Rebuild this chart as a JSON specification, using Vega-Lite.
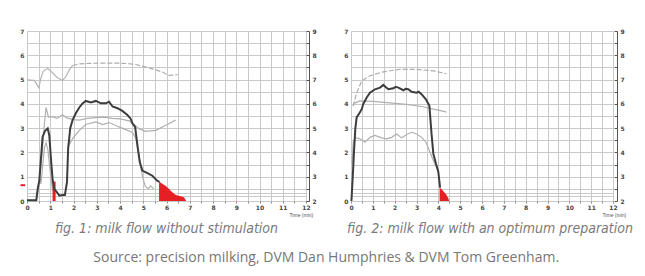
{
  "$schema": "https://vega.github.io/schema/vega-lite/v6.json",
  "background": "white",
  "padding": {"left": 19, "top": 28, "right": 2, "bottom": 2},
  "title": {"text": "Source: precision milking, DVM Dan Humphries & DVM Tom Greenham.", "orient": "bottom", "anchor": "middle", "font": "Open Sans", "fontSize": 14, "fontWeight": "normal", "color": "#777777", "offset": 15},
  "spacing": 26,
  "datasets": {
    "p1": [
      {"s":"dark","t":0,"v":0.03},{"s":"dark","t":0.4,"v":0.03},{"s":"dark","t":0.46,"v":0.5},{"s":"dark","t":0.53,"v":0.85},{"s":"dark","t":0.6,"v":1.74},{"s":"dark","t":0.67,"v":2.64},{"s":"dark","t":0.77,"v":2.88},{"s":"dark","t":0.89,"v":2.99},{"s":"dark","t":0.96,"v":2.7},{"s":"dark","t":1.03,"v":1.74},{"s":"dark","t":1.1,"v":0.91},{"s":"dark","t":1.17,"v":0.5},{"s":"dark","t":1.29,"v":0.36},{"s":"dark","t":1.39,"v":0.22},{"s":"dark","t":1.53,"v":0.25},{"s":"dark","t":1.63,"v":0.25},{"s":"dark","t":1.72,"v":0.78},{"s":"dark","t":1.77,"v":2.16},{"s":"dark","t":1.86,"v":3.0},{"s":"dark","t":1.96,"v":3.33},{"s":"dark","t":2.1,"v":3.61},{"s":"dark","t":2.25,"v":3.85},{"s":"dark","t":2.39,"v":4.02},{"s":"dark","t":2.53,"v":4.12},{"s":"dark","t":2.75,"v":4.06},{"s":"dark","t":2.96,"v":4.12},{"s":"dark","t":3.18,"v":4.02},{"s":"dark","t":3.39,"v":4.02},{"s":"dark","t":3.53,"v":4.09},{"s":"dark","t":3.68,"v":3.89},{"s":"dark","t":3.89,"v":3.82},{"s":"dark","t":4.1,"v":3.71},{"s":"dark","t":4.32,"v":3.54},{"s":"dark","t":4.45,"v":3.4},{"s":"dark","t":4.54,"v":3.19},{"s":"dark","t":4.65,"v":3.05},{"s":"dark","t":4.75,"v":2.29},{"s":"dark","t":4.85,"v":1.6},{"s":"dark","t":4.96,"v":1.25},{"s":"dark","t":5.18,"v":1.15},{"s":"dark","t":5.39,"v":1.04},{"s":"dark","t":5.61,"v":0.83},{"s":"dark","t":5.7,"v":0.79},
      {"s":"g1","t":0.55,"v":1.0},{"s":"g1","t":0.65,"v":2.0},{"s":"g1","t":0.75,"v":3.2},{"s":"g1","t":0.82,"v":3.85},{"s":"g1","t":0.92,"v":3.45},{"s":"g1","t":1.1,"v":3.47},{"s":"g1","t":1.3,"v":3.4},{"s":"g1","t":1.53,"v":3.55},{"s":"g1","t":1.7,"v":3.42},{"s":"g1","t":2.0,"v":3.35},{"s":"g1","t":2.25,"v":3.33},{"s":"g1","t":2.6,"v":3.4},{"s":"g1","t":2.96,"v":3.43},{"s":"g1","t":3.3,"v":3.45},{"s":"g1","t":3.68,"v":3.4},{"s":"g1","t":4.0,"v":3.38},{"s":"g1","t":4.39,"v":3.3},{"s":"g1","t":4.6,"v":3.15},{"s":"g1","t":4.82,"v":2.98},{"s":"g1","t":5.1,"v":2.87},{"s":"g1","t":5.54,"v":2.91},{"s":"g1","t":5.97,"v":3.12},{"s":"g1","t":6.39,"v":3.33},
      {"s":"g2","t":1.75,"v":2.22},{"s":"g2","t":1.96,"v":2.57},{"s":"g2","t":2.25,"v":2.91},{"s":"g2","t":2.53,"v":3.15},{"s":"g2","t":2.96,"v":3.26},{"s":"g2","t":3.25,"v":3.15},{"s":"g2","t":3.53,"v":3.23},{"s":"g2","t":3.96,"v":3.05},{"s":"g2","t":4.32,"v":2.91},{"s":"g2","t":4.54,"v":2.82},{"s":"g2","t":4.68,"v":2.57},{"s":"g2","t":4.82,"v":1.87},{"s":"g2","t":4.96,"v":1.04},{"s":"g2","t":5.08,"v":0.62},{"s":"g2","t":5.22,"v":0.51},{"s":"g2","t":5.32,"v":0.62},{"s":"g2","t":5.46,"v":0.49},
      {"s":"g3","t":0.42,"v":0.1},{"s":"g3","t":0.5,"v":0.6},{"s":"g3","t":0.55,"v":0.95},{"s":"g3","t":0.6,"v":0.7},{"s":"g3","t":0.65,"v":1.2},{"s":"g3","t":0.75,"v":2.2},{"s":"g3","t":0.82,"v":2.4},{"s":"g3","t":0.9,"v":2.1},{"s":"g3","t":1.0,"v":1.2},{"s":"g3","t":1.1,"v":0.4},
      {"s":"dsolid","t":0,"v":4.99},{"s":"dsolid","t":0.3,"v":4.97},{"s":"dsolid","t":0.41,"v":4.82},{"s":"dsolid","t":0.51,"v":4.66},{"s":"dsolid","t":0.6,"v":5.07},{"s":"dsolid","t":0.7,"v":5.35},{"s":"dsolid","t":0.89,"v":5.46},{"s":"dsolid","t":1.1,"v":5.28},{"s":"dsolid","t":1.31,"v":5.07},{"s":"dsolid","t":1.53,"v":4.97},{"s":"dsolid","t":1.67,"v":5.12},{"s":"dsolid","t":1.82,"v":5.4},{"s":"dsolid","t":1.96,"v":5.58},
      {"s":"ddash","t":1.96,"v":5.58},{"s":"ddash","t":2.25,"v":5.65},{"s":"ddash","t":2.8,"v":5.67},{"s":"ddash","t":3.32,"v":5.68},{"s":"ddash","t":3.8,"v":5.68},{"s":"ddash","t":4.32,"v":5.66},{"s":"ddash","t":4.68,"v":5.62},{"s":"ddash","t":5.25,"v":5.48},{"s":"ddash","t":5.82,"v":5.31},{"s":"ddash","t":6.11,"v":5.17},{"s":"ddash","t":6.47,"v":5.2},
      {"s":"ra","t":1.1,"v":0.8},{"s":"ra","t":1.23,"v":0.8},
      {"s":"rb","t":5.68,"v":0.8},{"s":"rb","t":5.8,"v":0.72},{"s":"rb","t":5.97,"v":0.62},{"s":"rb","t":6.1,"v":0.5},{"s":"rb","t":6.18,"v":0.42},{"s":"rb","t":6.3,"v":0.32},{"s":"rb","t":6.4,"v":0.25},{"s":"rb","t":6.6,"v":0.2},{"s":"rb","t":6.75,"v":0.15},{"s":"rb","t":6.85,"v":0},
      {"s":"rm","t":-0.28,"t2":-0.08,"v":0.65}
    ],
    "p2": [
      {"s":"dark","t":0.02,"v":0},{"s":"dark","t":0.08,"v":1.0},{"s":"dark","t":0.14,"v":2.08},{"s":"dark","t":0.2,"v":3.0},{"s":"dark","t":0.26,"v":3.44},{"s":"dark","t":0.41,"v":3.65},{"s":"dark","t":0.5,"v":3.8},{"s":"dark","t":0.56,"v":3.99},{"s":"dark","t":0.72,"v":4.26},{"s":"dark","t":0.87,"v":4.46},{"s":"dark","t":1.1,"v":4.6},{"s":"dark","t":1.33,"v":4.67},{"s":"dark","t":1.48,"v":4.78},{"s":"dark","t":1.6,"v":4.68},{"s":"dark","t":1.71,"v":4.6},{"s":"dark","t":1.94,"v":4.64},{"s":"dark","t":2.05,"v":4.7},{"s":"dark","t":2.17,"v":4.67},{"s":"dark","t":2.4,"v":4.56},{"s":"dark","t":2.5,"v":4.62},{"s":"dark","t":2.62,"v":4.6},{"s":"dark","t":2.78,"v":4.5},{"s":"dark","t":3.0,"v":4.46},{"s":"dark","t":3.1,"v":4.5},{"s":"dark","t":3.24,"v":4.39},{"s":"dark","t":3.43,"v":4.19},{"s":"dark","t":3.59,"v":3.92},{"s":"dark","t":3.69,"v":2.76},{"s":"dark","t":3.77,"v":1.95},{"s":"dark","t":3.89,"v":1.54},{"s":"dark","t":4.0,"v":1.2},{"s":"dark","t":4.08,"v":0.55},
      {"s":"ddash","t":0.1,"v":3.9},{"s":"ddash","t":0.26,"v":4.46},{"s":"ddash","t":0.49,"v":4.94},{"s":"ddash","t":0.87,"v":5.16},{"s":"ddash","t":1.48,"v":5.32},{"s":"ddash","t":2.24,"v":5.42},{"s":"ddash","t":3.0,"v":5.42},{"s":"ddash","t":3.77,"v":5.36},{"s":"ddash","t":4.38,"v":5.24},
      {"s":"g1","t":0.1,"v":4.0},{"s":"g1","t":0.41,"v":4.12},{"s":"g1","t":1.0,"v":4.1},{"s":"g1","t":1.63,"v":4.05},{"s":"g1","t":2.55,"v":3.98},{"s":"g1","t":3.31,"v":3.88},{"s":"g1","t":3.77,"v":3.78},{"s":"g1","t":4.15,"v":3.71},{"s":"g1","t":4.38,"v":3.66},
      {"s":"g2","t":0.05,"v":1.5},{"s":"g2","t":0.1,"v":2.4},{"s":"g2","t":0.18,"v":2.62},{"s":"g2","t":0.41,"v":2.56},{"s":"g2","t":0.64,"v":2.42},{"s":"g2","t":0.87,"v":2.62},{"s":"g2","t":1.1,"v":2.7},{"s":"g2","t":1.4,"v":2.6},{"s":"g2","t":1.63,"v":2.56},{"s":"g2","t":1.86,"v":2.62},{"s":"g2","t":2.09,"v":2.76},{"s":"g2","t":2.32,"v":2.6},{"s":"g2","t":2.55,"v":2.74},{"s":"g2","t":2.78,"v":2.83},{"s":"g2","t":3.0,"v":2.76},{"s":"g2","t":3.24,"v":2.62},{"s":"g2","t":3.43,"v":2.42},{"s":"g2","t":3.59,"v":2.08},{"s":"g2","t":3.74,"v":1.74},{"s":"g2","t":3.86,"v":1.47},{"s":"g2","t":3.97,"v":1.33},
      {"s":"rb","t":4.06,"v":0.55},{"s":"rb","t":4.15,"v":0.48},{"s":"rb","t":4.25,"v":0.38},{"s":"rb","t":4.35,"v":0.28},{"s":"rb","t":4.45,"v":0.12},{"s":"rb","t":4.5,"v":0}
    ]
  },
  "hconcat": [
    {
      "width": 279, "height": 170,
      "title": {"text": "fig. 1: milk flow without stimulation", "orient": "bottom", "anchor": "middle", "font": "Liberation Sans Narrow, DejaVu Sans Condensed, sans-serif", "fontStyle": "italic", "fontWeight": "normal", "fontSize": 14, "color": "#7a7a7a", "offset": 5},
      "data": {"name": "p1"},
      "resolve": {"axis": {"y": "independent"}},
      "layer": [
        {
          "transform": [{"filter": "datum.s === 'dsolid'"}],
          "mark": {"type": "line", "color": "#b5b5b5", "strokeWidth": 1.2},
          "encoding": {
            "x": {"field": "t", "type": "quantitative", "scale": {"domain": [0, 12], "nice": false, "zero": false}, "axis": {"values": [0,0.5,1,1.5,2,2.5,3,3.5,4,4.5,5,5.5,6,6.5,7,7.5,8,8.5,9,9.5,10,10.5,11,11.5,12], "labelExpr": "datum.value % 1 === 0 ? format(datum.value, 'd') : ''", "grid": true, "tickSize": 2, "labelPadding": 1, "labelFlush": false, "labelOverlap": false, "title": "Time (min)", "titleFontSize": 5, "titleFontWeight": "normal", "titleColor": "#555", "titleX": 262, "titleY": 11, "titleAlign": "left", "titleBaseline": "top"}},
            "y": {"field": "v", "type": "quantitative", "scale": {"domain": [0, 7], "nice": false, "zero": false},
              "axis": {"orient": "left", "values": [0,0.2,0.35,0.5,1,1.5,2,2.5,3,3.5,4,4.5,5,5.5,6,6.5,7], "labelExpr": "datum.value % 1 === 0 ? format(datum.value, 'd') : ''", "grid": true, "tickSize": 0, "labelPadding": 3, "labelOverlap": false, "labelFlush": false, "title": null}}
          }
        },
        {
          "transform": [{"filter": "datum.s === 'ddash'"}],
          "mark": {"type": "line", "color": "#adadad", "strokeWidth": 1.2, "strokeDash": [5, 2]},
          "encoding": {
            "x": {"field": "t", "type": "quantitative", "scale": {"domain": [0, 12], "nice": false, "zero": false}, "axis": {"values": [0,0.5,1,1.5,2,2.5,3,3.5,4,4.5,5,5.5,6,6.5,7,7.5,8,8.5,9,9.5,10,10.5,11,11.5,12], "labelExpr": "datum.value % 1 === 0 ? format(datum.value, 'd') : ''", "grid": true, "tickSize": 2, "labelPadding": 1, "labelFlush": false, "labelOverlap": false, "title": "Time (min)", "titleFontSize": 5, "titleFontWeight": "normal", "titleColor": "#555", "titleX": 262, "titleY": 11, "titleAlign": "left", "titleBaseline": "top"}},
            "y": {"field": "v", "type": "quantitative", "scale": {"domain": [0, 7], "nice": false, "zero": false}, "axis": null}
          }
        },
        {
          "transform": [{"filter": "datum.s === 'g1' || datum.s === 'g2' || datum.s === 'g3'"}],
          "mark": {"type": "line", "color": "#b0b0b0", "strokeWidth": 1.2},
          "encoding": {
            "x": {"field": "t", "type": "quantitative", "scale": {"domain": [0, 12], "nice": false, "zero": false}, "axis": {"values": [0,0.5,1,1.5,2,2.5,3,3.5,4,4.5,5,5.5,6,6.5,7,7.5,8,8.5,9,9.5,10,10.5,11,11.5,12], "labelExpr": "datum.value % 1 === 0 ? format(datum.value, 'd') : ''", "grid": true, "tickSize": 2, "labelPadding": 1, "labelFlush": false, "labelOverlap": false, "title": "Time (min)", "titleFontSize": 5, "titleFontWeight": "normal", "titleColor": "#555", "titleX": 262, "titleY": 11, "titleAlign": "left", "titleBaseline": "top"}},
            "y": {"field": "v", "type": "quantitative", "scale": {"domain": [0, 7], "nice": false, "zero": false}, "axis": null},
            "detail": {"field": "s"}
          }
        },
        {
          "transform": [{"filter": "datum.s === 'ra' || datum.s === 'rb'"}],
          "mark": {"type": "area", "color": "#e51f24", "opacity": 1},
          "encoding": {
            "x": {"field": "t", "type": "quantitative", "scale": {"domain": [0, 12], "nice": false, "zero": false}, "axis": {"values": [0,0.5,1,1.5,2,2.5,3,3.5,4,4.5,5,5.5,6,6.5,7,7.5,8,8.5,9,9.5,10,10.5,11,11.5,12], "labelExpr": "datum.value % 1 === 0 ? format(datum.value, 'd') : ''", "grid": true, "tickSize": 2, "labelPadding": 1, "labelFlush": false, "labelOverlap": false, "title": "Time (min)", "titleFontSize": 5, "titleFontWeight": "normal", "titleColor": "#555", "titleX": 262, "titleY": 11, "titleAlign": "left", "titleBaseline": "top"}},
            "y": {"field": "v", "type": "quantitative", "stack": null, "scale": {"domain": [0, 7], "nice": false, "zero": false}, "axis": null},
            "detail": {"field": "s"}
          }
        },
        {
          "transform": [{"filter": "datum.s === 'dark'"}],
          "mark": {"type": "line", "color": "#3d3d3d", "strokeWidth": 2},
          "encoding": {
            "x": {"field": "t", "type": "quantitative", "scale": {"domain": [0, 12], "nice": false, "zero": false}, "axis": {"values": [0,0.5,1,1.5,2,2.5,3,3.5,4,4.5,5,5.5,6,6.5,7,7.5,8,8.5,9,9.5,10,10.5,11,11.5,12], "labelExpr": "datum.value % 1 === 0 ? format(datum.value, 'd') : ''", "grid": true, "tickSize": 2, "labelPadding": 1, "labelFlush": false, "labelOverlap": false, "title": "Time (min)", "titleFontSize": 5, "titleFontWeight": "normal", "titleColor": "#555", "titleX": 262, "titleY": 11, "titleAlign": "left", "titleBaseline": "top"}},
            "y": {"field": "v", "type": "quantitative", "scale": {"domain": [0, 7], "nice": false, "zero": false}, "axis": null}
          }
        },
        {
          "transform": [{"filter": "datum.s === 'rm'"}],
          "mark": {"type": "rule", "color": "#e51f24", "strokeWidth": 2},
          "encoding": {
            "x": {"field": "t", "type": "quantitative", "scale": {"domain": [0, 12], "nice": false, "zero": false}, "axis": {"values": [0,0.5,1,1.5,2,2.5,3,3.5,4,4.5,5,5.5,6,6.5,7,7.5,8,8.5,9,9.5,10,10.5,11,11.5,12], "labelExpr": "datum.value % 1 === 0 ? format(datum.value, 'd') : ''", "grid": true, "tickSize": 2, "labelPadding": 1, "labelFlush": false, "labelOverlap": false, "title": "Time (min)", "titleFontSize": 5, "titleFontWeight": "normal", "titleColor": "#555", "titleX": 262, "titleY": 11, "titleAlign": "left", "titleBaseline": "top"}},
            "x2": {"field": "t2"},
            "y": {"field": "v", "type": "quantitative", "scale": {"domain": [0, 7], "nice": false, "zero": false}, "axis": null}
          }
        },
        {
          "transform": [{"filter": "datum.s === 'dark'"}],
          "mark": {"type": "point", "opacity": 0},
          "encoding": {
            "x": {"field": "t", "type": "quantitative", "scale": {"domain": [0, 12], "nice": false, "zero": false}, "axis": {"values": [0,0.5,1,1.5,2,2.5,3,3.5,4,4.5,5,5.5,6,6.5,7,7.5,8,8.5,9,9.5,10,10.5,11,11.5,12], "labelExpr": "datum.value % 1 === 0 ? format(datum.value, 'd') : ''", "grid": true, "tickSize": 2, "labelPadding": 1, "labelFlush": false, "labelOverlap": false, "title": "Time (min)", "titleFontSize": 5, "titleFontWeight": "normal", "titleColor": "#555", "titleX": 262, "titleY": 11, "titleAlign": "left", "titleBaseline": "top"}},
            "y": {"field": "v", "type": "quantitative", "scale": {"domain": [0, 7], "nice": false, "zero": false},
              "axis": {"orient": "right", "values": [0,0.5,1,1.5,2,2.5,3,3.5,4,4.5,5,5.5,6,6.5,7], "labelExpr": "datum.value % 1 === 0 ? '' + (datum.value + 2) : ''", "grid": false, "domain": true, "domainColor": "#555", "tickSize": -3, "tickColor": "#555", "offset": 3, "labelPadding": 6, "labelOverlap": false, "labelFlush": false, "title": null}}
          }
        }
      ]
    },
    {
      "width": 262, "height": 170,
      "title": {"text": "fig. 2: milk flow with an optimum preparation", "orient": "bottom", "anchor": "middle", "dx": 8, "font": "Liberation Sans Narrow, DejaVu Sans Condensed, sans-serif", "fontStyle": "italic", "fontWeight": "normal", "fontSize": 14, "color": "#7a7a7a", "offset": 5},
      "data": {"name": "p2"},
      "resolve": {"axis": {"y": "independent"}},
      "layer": [
        {
          "transform": [{"filter": "datum.s === 'ddash'"}],
          "mark": {"type": "line", "color": "#adadad", "strokeWidth": 1.2, "strokeDash": [5, 2]},
          "encoding": {
            "x": {"field": "t", "type": "quantitative", "scale": {"domain": [0, 12], "nice": false, "zero": false}, "axis": {"values": [0,0.5,1,1.5,2,2.5,3,3.5,4,4.5,5,5.5,6,6.5,7,7.5,8,8.5,9,9.5,10,10.5,11,11.5,12], "labelExpr": "datum.value % 1 === 0 ? format(datum.value, 'd') : ''", "grid": true, "tickSize": 2, "labelPadding": 1, "labelFlush": false, "labelOverlap": false, "title": "Time (min)", "titleFontSize": 5, "titleFontWeight": "normal", "titleColor": "#555", "titleX": 251, "titleY": 11, "titleAlign": "left", "titleBaseline": "top"}},
            "y": {"field": "v", "type": "quantitative", "scale": {"domain": [0, 7], "nice": false, "zero": false},
              "axis": {"orient": "left", "values": [0,0.2,0.35,0.5,1,1.5,2,2.5,3,3.5,4,4.5,5,5.5,6,6.5,7], "labelExpr": "datum.value % 1 === 0 ? format(datum.value, 'd') : ''", "grid": true, "tickSize": 0, "labelPadding": 3, "labelOverlap": false, "labelFlush": false, "title": null}}
          }
        },
        {
          "transform": [{"filter": "datum.s === 'g1' || datum.s === 'g2'"}],
          "mark": {"type": "line", "color": "#b0b0b0", "strokeWidth": 1.2},
          "encoding": {
            "x": {"field": "t", "type": "quantitative", "scale": {"domain": [0, 12], "nice": false, "zero": false}, "axis": {"values": [0,0.5,1,1.5,2,2.5,3,3.5,4,4.5,5,5.5,6,6.5,7,7.5,8,8.5,9,9.5,10,10.5,11,11.5,12], "labelExpr": "datum.value % 1 === 0 ? format(datum.value, 'd') : ''", "grid": true, "tickSize": 2, "labelPadding": 1, "labelFlush": false, "labelOverlap": false, "title": "Time (min)", "titleFontSize": 5, "titleFontWeight": "normal", "titleColor": "#555", "titleX": 251, "titleY": 11, "titleAlign": "left", "titleBaseline": "top"}},
            "y": {"field": "v", "type": "quantitative", "scale": {"domain": [0, 7], "nice": false, "zero": false}, "axis": null},
            "detail": {"field": "s"}
          }
        },
        {
          "transform": [{"filter": "datum.s === 'rb'"}],
          "mark": {"type": "area", "color": "#e51f24", "opacity": 1},
          "encoding": {
            "x": {"field": "t", "type": "quantitative", "scale": {"domain": [0, 12], "nice": false, "zero": false}, "axis": {"values": [0,0.5,1,1.5,2,2.5,3,3.5,4,4.5,5,5.5,6,6.5,7,7.5,8,8.5,9,9.5,10,10.5,11,11.5,12], "labelExpr": "datum.value % 1 === 0 ? format(datum.value, 'd') : ''", "grid": true, "tickSize": 2, "labelPadding": 1, "labelFlush": false, "labelOverlap": false, "title": "Time (min)", "titleFontSize": 5, "titleFontWeight": "normal", "titleColor": "#555", "titleX": 251, "titleY": 11, "titleAlign": "left", "titleBaseline": "top"}},
            "y": {"field": "v", "type": "quantitative", "stack": null, "scale": {"domain": [0, 7], "nice": false, "zero": false}, "axis": null}
          }
        },
        {
          "transform": [{"filter": "datum.s === 'dark'"}],
          "mark": {"type": "line", "color": "#3d3d3d", "strokeWidth": 2},
          "encoding": {
            "x": {"field": "t", "type": "quantitative", "scale": {"domain": [0, 12], "nice": false, "zero": false}, "axis": {"values": [0,0.5,1,1.5,2,2.5,3,3.5,4,4.5,5,5.5,6,6.5,7,7.5,8,8.5,9,9.5,10,10.5,11,11.5,12], "labelExpr": "datum.value % 1 === 0 ? format(datum.value, 'd') : ''", "grid": true, "tickSize": 2, "labelPadding": 1, "labelFlush": false, "labelOverlap": false, "title": "Time (min)", "titleFontSize": 5, "titleFontWeight": "normal", "titleColor": "#555", "titleX": 251, "titleY": 11, "titleAlign": "left", "titleBaseline": "top"}},
            "y": {"field": "v", "type": "quantitative", "scale": {"domain": [0, 7], "nice": false, "zero": false}, "axis": null}
          }
        },
        {
          "transform": [{"filter": "datum.s === 'dark'"}],
          "mark": {"type": "point", "opacity": 0},
          "encoding": {
            "x": {"field": "t", "type": "quantitative", "scale": {"domain": [0, 12], "nice": false, "zero": false}, "axis": {"values": [0,0.5,1,1.5,2,2.5,3,3.5,4,4.5,5,5.5,6,6.5,7,7.5,8,8.5,9,9.5,10,10.5,11,11.5,12], "labelExpr": "datum.value % 1 === 0 ? format(datum.value, 'd') : ''", "grid": true, "tickSize": 2, "labelPadding": 1, "labelFlush": false, "labelOverlap": false, "title": "Time (min)", "titleFontSize": 5, "titleFontWeight": "normal", "titleColor": "#555", "titleX": 251, "titleY": 11, "titleAlign": "left", "titleBaseline": "top"}},
            "y": {"field": "v", "type": "quantitative", "scale": {"domain": [0, 7], "nice": false, "zero": false},
              "axis": {"orient": "right", "values": [0,0.5,1,1.5,2,2.5,3,3.5,4,4.5,5,5.5,6,6.5,7], "labelExpr": "datum.value % 1 === 0 ? '' + (datum.value + 2) : ''", "grid": false, "domain": true, "domainColor": "#555", "tickSize": -3, "tickColor": "#555", "offset": 4, "labelPadding": 6, "labelOverlap": false, "labelFlush": false, "title": null}}
          }
        }
      ]
    }
  ],
  "config": {
    "view": {"stroke": null},
    "axis": {"labelFontSize": 6, "labelColor": "#444", "labelFont": "DejaVu Sans", "labelFontWeight": "bold", "tickColor": "#888", "domain": false, "gridColor": "#c9c9c9", "gridWidth": 1}
  }
}
